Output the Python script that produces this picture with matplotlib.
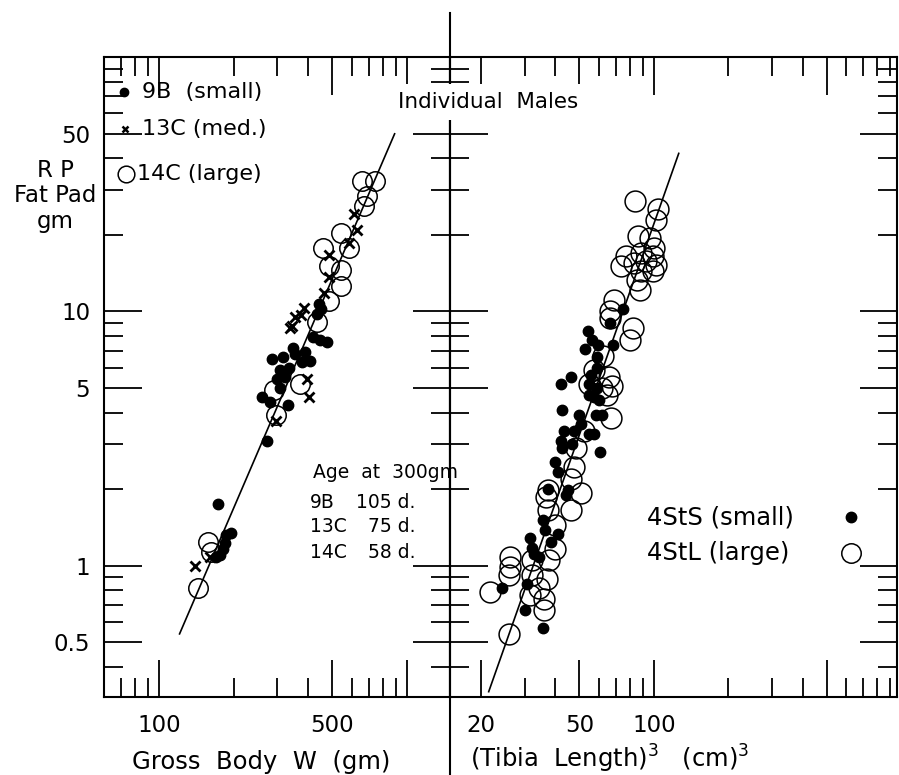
import matplotlib.pyplot as plt
from matplotlib.ticker import FixedLocator, FixedFormatter, NullFormatter

plt.rcParams['font.family'] = ['DejaVu Sans']
plt.rcParams['mathtext.fontset'] = 'dejavusans'

W, H = 899, 775

# ---- left panel: RP fat pad vs gross body weight (three strains) ----
b9_weight = [441, 449, 435, 477, 447, 419, 347, 285, 316, 353, 388, 406, 377, 307,
             321, 307, 261, 279, 330, 273, 173, 195, 186, 184, 181, 176, 169, 300, 335]
b9_fat = [10.7, 10.2, 9.8, 7.6, 7.7, 7.9, 7.2, 6.5, 6.6, 6.8, 6.9, 6.4, 6.3, 5.9,
          5.5, 5.0, 4.6, 4.4, 4.3, 3.1, 1.75, 1.35, 1.32, 1.23, 1.16, 1.10, 1.08, 5.4, 6.0]

c13_weight = [609, 626, 581, 485, 484, 462, 383, 355, 338, 372, 345, 394, 401, 297, 140, 160]
c13_fat = [24.2, 20.8, 18.5, 16.6, 13.6, 11.8, 10.3, 9.5, 8.6, 9.7, 8.8, 5.4, 4.6, 3.7, 1.0, 1.08]

c14_weight = [659, 743, 689, 670, 544, 585, 459, 485, 542, 541, 483, 435, 292, 369,
              297, 157, 162, 144]
c14_fat = [32.6, 32.6, 28.5, 26.0, 20.4, 17.8, 17.7, 15.1, 14.5, 12.6, 11.0, 9.1, 4.9, 5.2,
           3.9, 1.24, 1.13, 0.82]

left_fit_x = [121, 891]
left_fit_y = [0.54, 49.9]

# ---- right panel: RP fat pad vs (tibia length)^3 ----
sts_tibia = [75.1, 66.5, 54.1, 56.1, 68.2, 59.3, 52.5, 58.7, 58.7, 46.4, 42.3, 55.9, 54.8,
             59.1, 54.8, 57.4, 60.1, 42.6, 49.8, 58.3, 61.7, 50.7, 47.5, 54.6, 57.2, 43.3,
             42.0, 42.4, 46.6, 60.8, 40.0, 41.1, 37.4, 45.0, 35.6, 36.2, 31.5, 32.3, 38.3,
             40.8, 34.4, 24.4, 30.8, 30.1, 35.8, 44.2, 32.9]
sts_fat = [10.2, 9.0, 8.4, 7.7, 7.4, 7.4, 7.1, 6.6, 6.0, 5.5, 5.2, 5.6, 5.2,
           5.0, 4.7, 4.6, 4.5, 4.1, 3.9, 3.9, 3.9, 3.6, 3.4, 3.3, 3.3, 3.4,
           3.1, 2.9, 3.0, 2.8, 2.55, 2.33, 2.0, 1.98, 1.51, 1.38, 1.29, 1.18, 1.24,
           1.33, 1.08, 0.82, 0.85, 0.67, 0.57, 1.89, 1.11]

stl_tibia = [84.1, 104, 102, 86.2, 96.3, 99.7, 76.9, 88.5, 98.8, 73.3, 82.8, 92.5, 102,
             88.3, 99.6, 85.7, 88.1, 69.1, 66.6, 66.5, 82.2, 79.9, 62.1, 57.5, 66.1, 54.9,
             61.9, 67.9, 64.8, 67.0, 52.1, 48.3, 47.5, 46.4, 50.8, 46.3, 36.6, 37.3, 39.8,
             32.3, 37.8, 39.7, 26.3, 26.3, 26.0, 21.8, 32.2, 34.4, 37.1, 31.6, 36.0, 35.9,
             25.9, 37.4]
stl_fat = [27.1, 25.2, 22.9, 19.8, 19.4, 17.7, 16.5, 16.9, 16.5, 15.1, 15.5, 15.8, 15.2,
           14.4, 14.4, 13.3, 12.1, 11.1, 10.0, 9.4, 8.6, 7.7, 6.7, 5.9, 5.5, 5.2,
           5.0, 5.1, 4.7, 3.8, 3.4, 2.9, 2.45, 2.2, 1.94, 1.65, 1.86, 1.65, 1.45,
           1.05, 1.05, 1.16, 1.08, 0.99, 0.92, 0.79, 0.92, 0.82, 0.89, 0.77, 0.74, 0.67,
           0.54, 1.98]

right_fit_x = [21.5, 126]
right_fit_y = [0.32, 41.8]

y_major = [0.5, 1, 5, 10, 50]
y_major_labels = ['0.5', '1', '5', '10', '50']
y_minor = [0.4, 0.6, 0.7, 0.8, 0.9, 2, 3, 4, 6, 7, 8, 9, 20, 30, 40, 60, 70, 80, 90]

left_x_major = [100, 500, 1000]
left_x_labels = ['100', '500', '']
left_x_minor = [70, 80, 90, 200, 300, 400, 600, 700, 800, 900]

right_x_major = [20, 50, 100, 500]
right_x_labels = ['20', '50', '100', '']
right_x_minor = [30, 40, 60, 70, 80, 90, 200, 300, 400, 600, 700, 800, 900]


def fpos(x, y):
    return x / W, 1 - y / H


fig = plt.figure(figsize=(W / 100, H / 100), dpi=100)
fig.patch.set_facecolor('white')

top, bottom, mid = 57, 697, 450
ax1 = fig.add_axes([104 / W, 1 - bottom / H, (mid - 104) / W, (bottom - top) / H])
ax2 = fig.add_axes([mid / W, 1 - bottom / H, (897 - mid) / W, (bottom - top) / H])

for ax in (ax1, ax2):
    ax.set_xscale('log')
    ax.set_yscale('log')
    ax.set_ylim(0.305, 100)
    for s in ax.spines.values():
        s.set_linewidth(1.5)
    ax.yaxis.set_major_locator(FixedLocator(y_major))
    ax.yaxis.set_minor_locator(FixedLocator(y_minor))
    ax.yaxis.set_minor_formatter(NullFormatter())
    ax.xaxis.set_minor_formatter(NullFormatter())
    ax.tick_params(which='both', direction='in', top=True, right=True, left=True,
                   width=1.3, labelsize=16.5, color='black')
    ax.tick_params(which='major', length=27, pad=12)
    ax.tick_params(which='minor', length=14)

ax1.set_xlim(60, 1490)
ax2.set_xlim(15, 960)

ax1.yaxis.set_major_formatter(FixedFormatter(y_major_labels))
ax1.tick_params(axis='y', pad=10)
ax2.yaxis.set_major_formatter(NullFormatter())
ax2.tick_params(axis='y', labelleft=False)

ax1.xaxis.set_major_locator(FixedLocator(left_x_major))
ax1.xaxis.set_major_formatter(FixedFormatter(left_x_labels))
ax1.xaxis.set_minor_locator(FixedLocator(left_x_minor))
ax2.xaxis.set_major_locator(FixedLocator(right_x_major))
ax2.xaxis.set_major_formatter(FixedFormatter(right_x_labels))
ax2.xaxis.set_minor_locator(FixedLocator(right_x_minor))

# scatter of the three strains + fitted line
ax1.plot(left_fit_x, left_fit_y, color='black', lw=1.2, zorder=1)
ax1.plot(c14_weight, c14_fat, 'o', ms=14, mfc='none', mec='black', mew=1.1, zorder=2)
ax1.plot(b9_weight, b9_fat, 'o', ms=7.5, color='black', zorder=3)
ax1.plot(c13_weight, c13_fat, 'x', ms=7, color='black', mew=2, zorder=4)

ax2.plot(right_fit_x, right_fit_y, color='black', lw=1.2, zorder=1)
ax2.plot(stl_tibia, stl_fat, 'o', ms=15, mfc='none', mec='black', mew=1.1, zorder=2)
ax2.plot(sts_tibia, sts_fat, 'o', ms=7.5, color='black', zorder=3)

# centre divider runs past the plotting area at top and bottom
fig.add_artist(plt.Line2D([mid / W, mid / W], [1 - 13 / H, 0], color='black', lw=1.5, zorder=2))

# left legend
ax1.plot(*fpos(124, 92), 'o', ms=6, color='black', transform=fig.transFigure, clip_on=False)
ax1.plot(*fpos(125, 129), 'x', ms=5, mew=1.8, color='black', transform=fig.transFigure, clip_on=False)
ax1.plot(*fpos(126, 174), 'o', ms=12, mfc='white', mec='black', mew=1.1,
         transform=fig.transFigure, clip_on=False)
fig.text(*fpos(142, 92), '9B  (small)', fontsize=16, va='center', ha='left')
fig.text(*fpos(142, 129), '13C (med.)', fontsize=16, va='center', ha='left')
fig.text(*fpos(137, 174), '14C (large)', fontsize=16, va='center', ha='left')

fig.text(*fpos(488, 102), 'Individual  Males', fontsize=15.5, va='center', ha='center',
         zorder=5, bbox=dict(facecolor='white', edgecolor='none', pad=6))

fig.text(*fpos(55, 196), 'R P\nFat Pad\ngm', fontsize=16.5, va='center', ha='center',
         linespacing=1.15)

# age table
fig.text(*fpos(313, 472), 'Age  at  300gm', fontsize=13.5, va='center', ha='left')
for row_y, name, age in [(502, '9B', '105 d.'), (527, '13C', '75 d.'), (553, '14C', '58 d.')]:
    fig.text(*fpos(310, row_y), name, fontsize=13.5, va='center', ha='left')
    fig.text(*fpos(415, row_y), age, fontsize=13.5, va='center', ha='right')

# right legend
fig.text(*fpos(647, 517), '4StS (small)', fontsize=17.5, va='center', ha='left')
fig.text(*fpos(647, 553), '4StL (large)', fontsize=17.5, va='center', ha='left')
ax2.plot(*fpos(851, 517), 'o', ms=7.5, color='black', transform=fig.transFigure, clip_on=False)
ax2.plot(*fpos(851, 553), 'o', ms=14, mfc='none', mec='black', mew=1.1,
         transform=fig.transFigure, clip_on=False)

# axis titles
fig.text(*fpos(261, 762), 'Gross  Body  W  (gm)', fontsize=17.5, va='center', ha='center')
fig.text(*fpos(470, 759), '(Tibia  Length)$^3$   (cm)$^3$', fontsize=17.5, va='center', ha='left')

fig.savefig('out.png', dpi=100, facecolor='white')
